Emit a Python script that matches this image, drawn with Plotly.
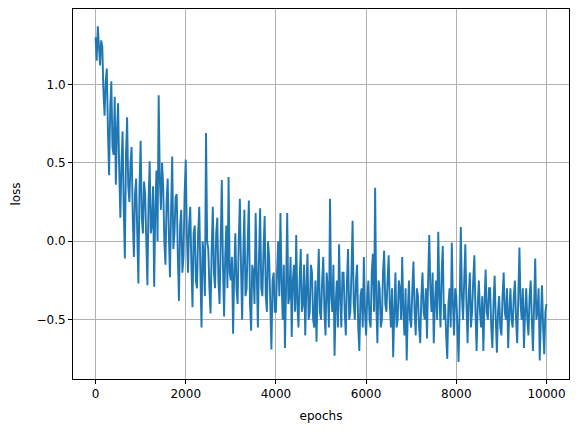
import plotly.graph_objects as go

step = 25
loss = [
    1.30, 1.15, 1.37, 1.20, 1.12, 1.28, 1.24, 0.95, 0.80, 1.02, 1.10, 0.70, 0.42, 0.85, 1.02, 0.60, 0.55, 0.92, 0.36, 0.70,
    0.88, 0.45, 0.15, 0.50, 0.70, 0.20, -0.11, 0.55, 0.79, 0.35, 0.25, 0.50, 0.60, 0.15, -0.10, 0.30, 0.40, 0.05, -0.27, 0.35,
    0.64, 0.15, 0.05, 0.38, 0.30, 0.00, -0.28, 0.25, 0.51, 0.05, 0.10, 0.35, -0.29, 0.20, 0.45, 0.00, 0.93, 0.40, 0.20, 0.50,
    0.35, 0.00, -0.15, 0.25, 0.40, 0.05, -0.23, 0.20, 0.54, -0.05, 0.05, 0.28, 0.30, -0.10, -0.38, 0.10, 0.20, -0.20, -0.10, 0.30,
    0.52, 0.05, -0.20, 0.10, 0.22, -0.15, -0.42, 0.05, 0.10, -0.25, -0.30, 0.05, 0.22, -0.20, -0.55, 0.00, -0.10, -0.35, 0.69, 0.00,
    -0.05, -0.30, -0.46, -0.05, 0.22, -0.20, -0.30, 0.05, 0.15, -0.25, -0.40, 0.00, 0.39, -0.15, -0.48, -0.10, 0.10, -0.30, 0.41, -0.20,
    -0.25, -0.10, -0.59, -0.20, 0.05, -0.30, -0.40, 0.00, 0.27, -0.15, -0.50, -0.10, 0.20, -0.35, -0.30, 0.00, 0.26, -0.40, -0.57, -0.15,
    -0.20, -0.40, 0.18, -0.20, -0.55, -0.10, 0.21, -0.30, -0.35, -0.05, 0.16, -0.35, -0.45, 0.00, -0.10, -0.40, -0.69, -0.25, -0.20, -0.45,
    -0.45, -0.20, 0.00, -0.35, 0.18, -0.25, -0.50, -0.15, -0.68, -0.30, 0.18, -0.40, -0.35, -0.10, -0.61, -0.25, -0.15, -0.45, 0.04, -0.40,
    -0.55, -0.25, -0.05, -0.45, -0.40, -0.15, -0.60, -0.30, -0.08, -0.50, -0.45, -0.15, -0.20, -0.50, -0.55, -0.25, -0.64, -0.30, -0.05, -0.45,
    -0.50, -0.25, -0.10, -0.45, -0.60, -0.20, -0.30, -0.55, 0.27, -0.35, -0.45, -0.15, -0.73, -0.40, -0.25, -0.55, -0.02, -0.35, -0.55, -0.20,
    -0.20, -0.45, -0.60, -0.25, -0.05, -0.50, -0.45, -0.20, 0.13, -0.40, -0.50, -0.25, -0.15, -0.55, -0.70, -0.35, -0.30, -0.55, -0.10, -0.45,
    -0.60, -0.35, -0.25, -0.50, -0.55, -0.20, -0.08, -0.45, 0.34, -0.40, -0.65, -0.25, -0.30, -0.55, -0.50, -0.20, -0.06, -0.40, -0.45, -0.25,
    -0.09, -0.40, -0.55, -0.30, -0.74, -0.45, -0.20, -0.55, -0.50, -0.25, -0.30, -0.50, -0.10, -0.45, -0.60, -0.30, -0.76, -0.45, -0.25, -0.50,
    -0.55, -0.30, -0.13, -0.45, -0.60, -0.30, -0.35, -0.55, -0.65, -0.35, -0.20, -0.45, -0.50, -0.30, -0.62, -0.25, 0.04, -0.30, -0.45, -0.20,
    -0.65, -0.40, -0.25, -0.50, 0.06, -0.35, -0.55, -0.20, -0.03, -0.50, -0.40, -0.60, -0.75, -0.40, -0.30, -0.55, -0.01, -0.40, -0.60, -0.30,
    -0.35, -0.55, -0.77, -0.40, 0.09, -0.35, -0.50, -0.25, -0.02, -0.40, -0.65, -0.35, -0.20, -0.55, -0.45, -0.25, -0.09, -0.45, -0.70, -0.40,
    -0.25, -0.45, -0.55, -0.35, -0.70, -0.40, -0.18, -0.45, -0.50, -0.30, -0.30, -0.55, -0.68, -0.40, -0.22, -0.50, -0.71, -0.45, -0.35, -0.55,
    -0.60, -0.35, -0.20, -0.45, -0.50, -0.30, -0.68, -0.45, -0.30, -0.50, -0.55, -0.35, -0.25, -0.50, -0.65, -0.35, -0.04, -0.40, -0.50, -0.30,
    -0.68, -0.45, -0.30, -0.50, -0.60, -0.35, -0.25, -0.50, -0.70, -0.40, -0.11, -0.50, -0.45, -0.30, -0.76, -0.50, -0.28, -0.55, -0.72, -0.45,
    -0.40,
]
epochs = [i * step for i in range(len(loss) - 1)] + [9999]

x_ticks = [0, 2000, 4000, 6000, 8000, 10000]
y_ticks = [-0.5, 0.0, 0.5, 1.0]

fig = go.Figure()
fig.add_trace(go.Scatter(x=epochs, y=loss, mode="lines",
                         line=dict(color="#1f77b4", width=1.9)))

axis_common = dict(
    showgrid=True, gridcolor="#b0b0b0", gridwidth=0.8,
    showline=True, linecolor="black", linewidth=1, mirror=True,
    ticks="outside", ticklen=4, tickcolor="black", tickwidth=1,
    zeroline=False, automargin=False,
    tickfont=dict(family="DejaVu Sans", size=12, color="black"),
    title_font=dict(family="DejaVu Sans", size=12, color="black"),
)

# the page body has an 8px default margin, so the figure is 8px smaller
fig.update_layout(
    width=570, height=424,
    margin=dict(l=65, r=9, t=1, b=53),
    paper_bgcolor="white", plot_bgcolor="white",
    showlegend=False,
    xaxis=dict(range=[-500, 10499], tickvals=x_ticks, tickformat="d",
               title=dict(text="epochs", standoff=11), **axis_common),
    yaxis=dict(range=[-0.878, 1.48], tickvals=y_ticks, tickformat=".1f",
               title=dict(text="loss", standoff=13), **axis_common),
)

fig.write_html("out.html")
